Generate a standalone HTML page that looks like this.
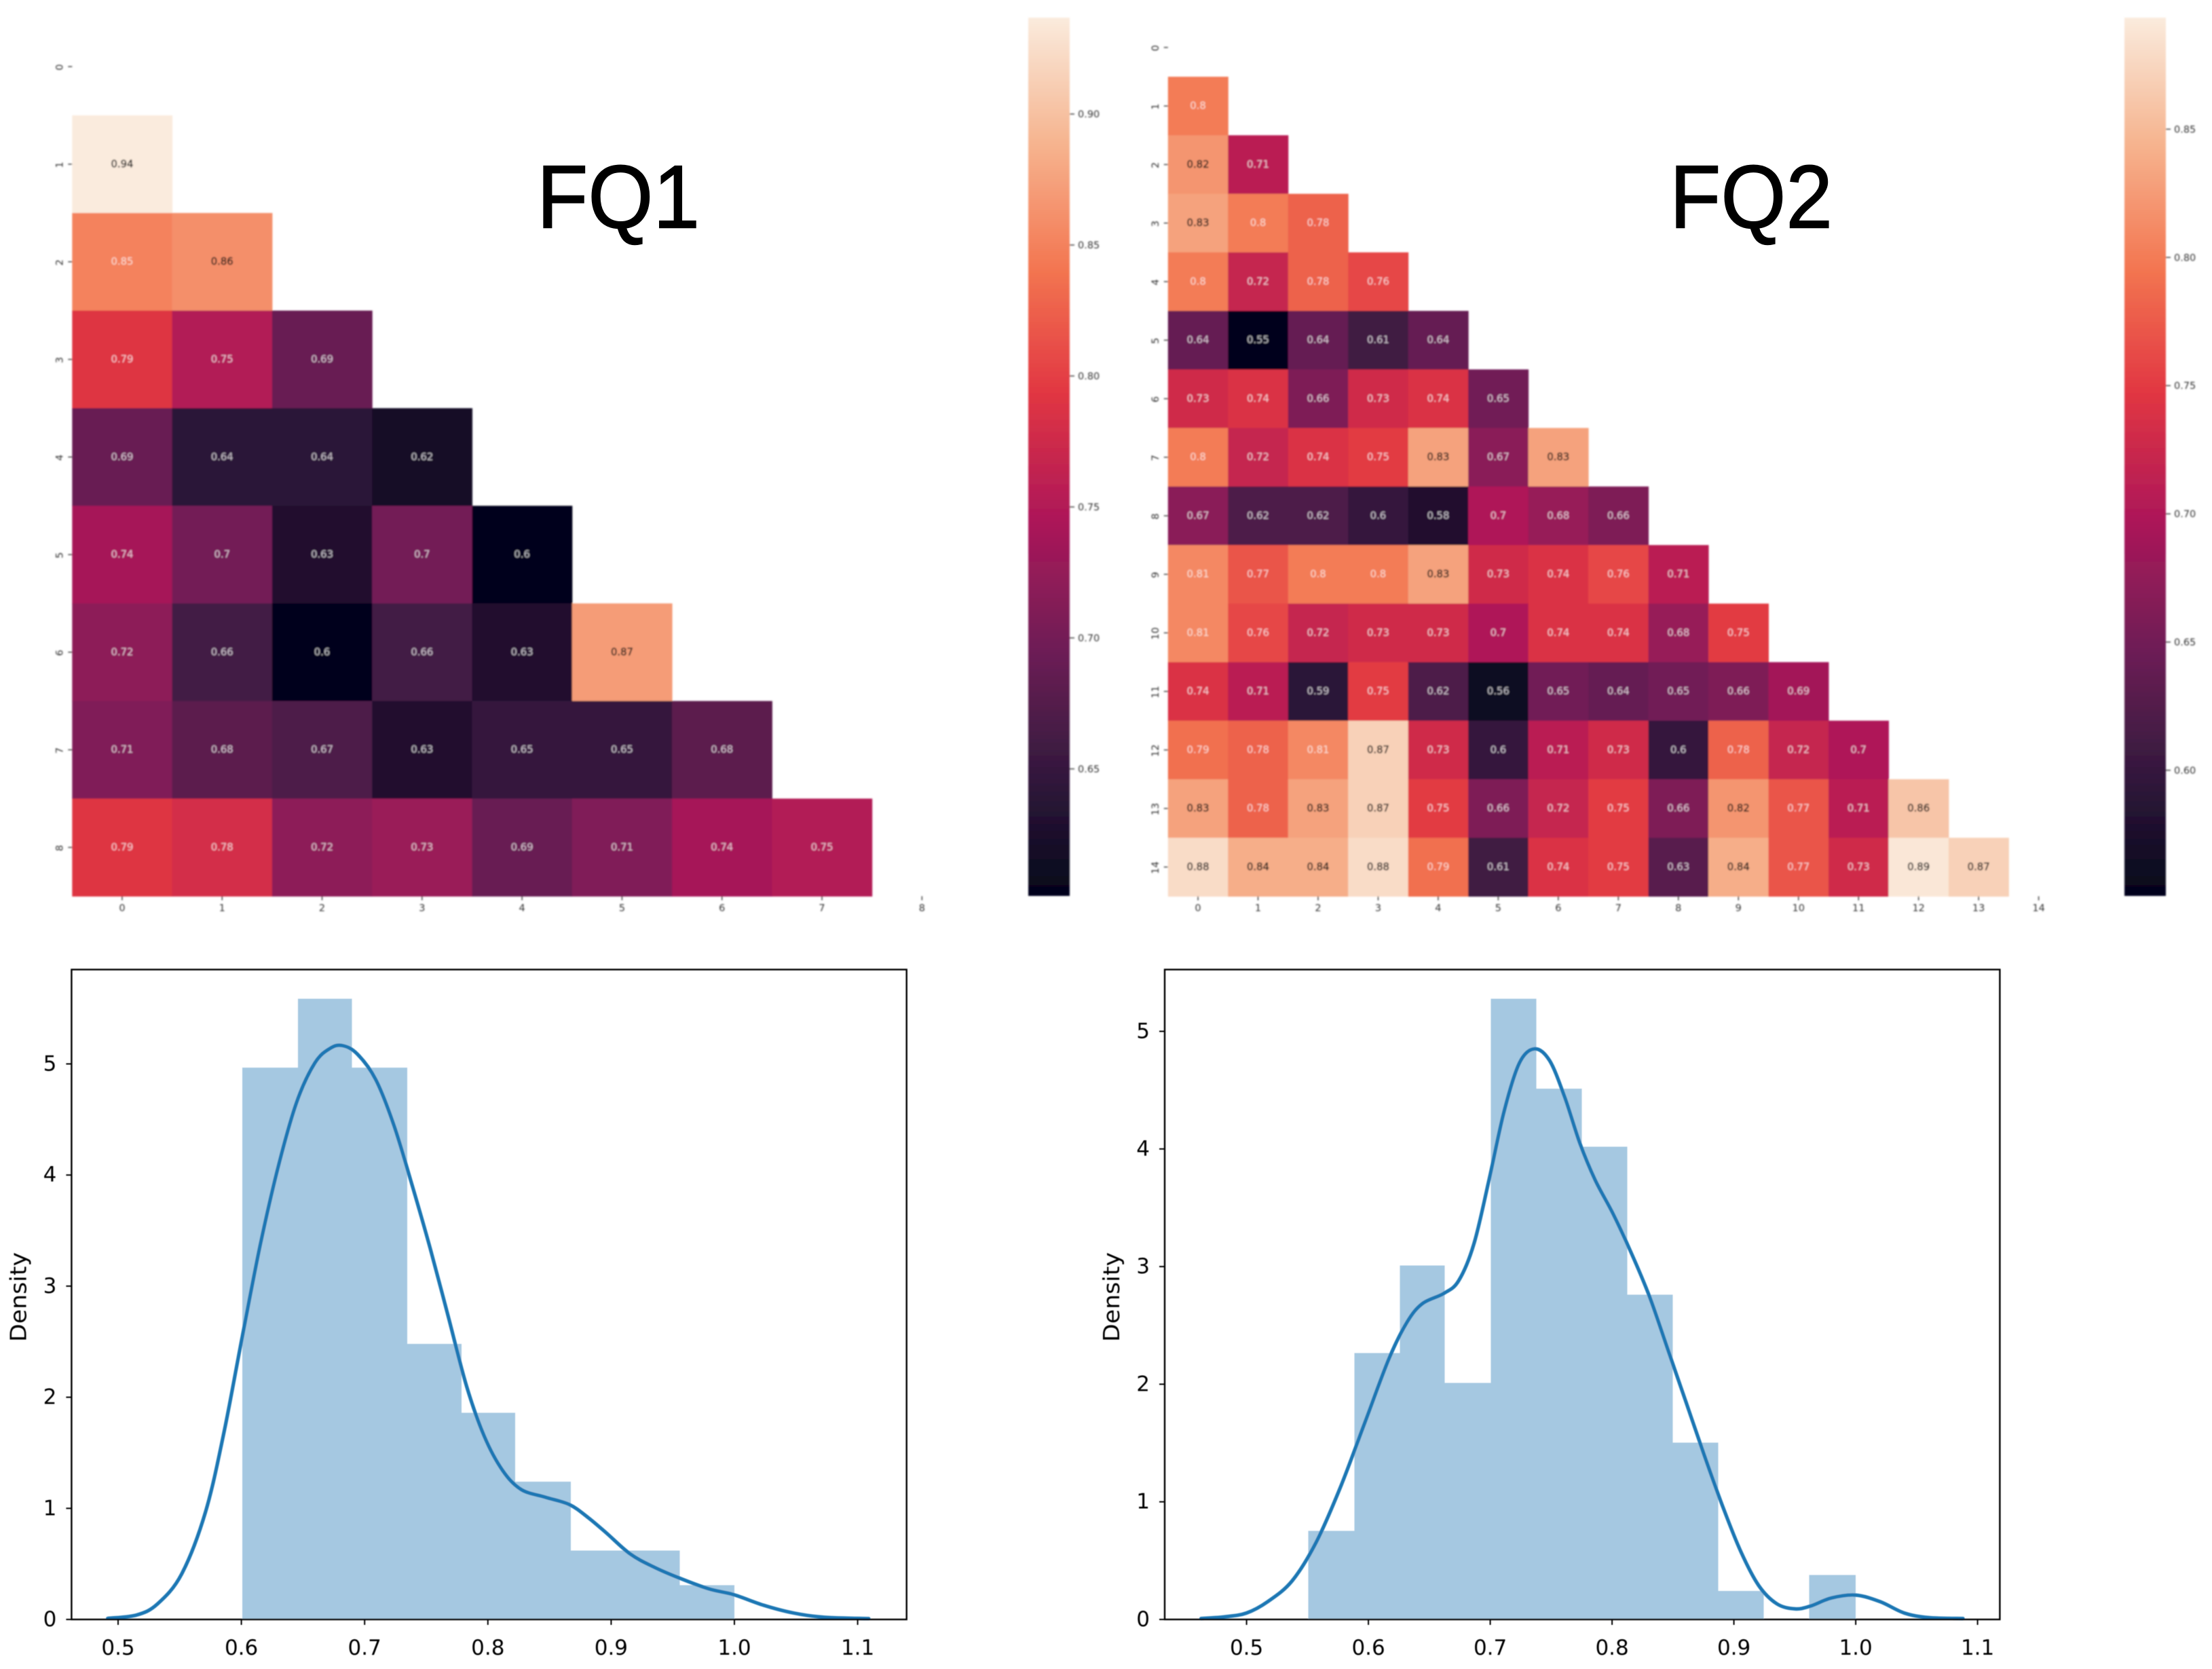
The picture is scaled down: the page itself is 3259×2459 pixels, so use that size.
<!DOCTYPE html>
<html lang="en">
<head>
<meta charset="utf-8">
<title>FQ1 and FQ2 correlation heatmaps and density histograms</title>
<style>
html,body{margin:0;padding:0;background:#fff;}
svg{display:block;}
text{font-family:"DejaVu Sans","Liberation Sans",sans-serif;}
</style>
</head>
<body>
<svg id="figure" xmlns="http://www.w3.org/2000/svg" width="3259" height="2459" viewBox="0 0 3259 2459">
  <defs>
    <filter id="soft" x="-5%" y="-5%" width="110%" height="110%"><feGaussianBlur stdDeviation="1.1"/></filter>
    <filter id="softer" x="-5%" y="-5%" width="110%" height="110%"><feGaussianBlur stdDeviation="0.6"/></filter>
  </defs>
  <rect width="3259" height="2459" fill="#ffffff"/>
  <g id="fq1-heatmap" filter="url(#soft)"></g>
  <g id="fq2-heatmap" filter="url(#soft)"></g>
  <g id="fq1-hist" filter="url(#softer)"></g>
  <g id="fq2-hist" filter="url(#softer)"></g>
  <text x="791" y="335.5" font-size="132" textLength="240" lengthAdjust="spacingAndGlyphs" fill="#000" stroke="#000" stroke-width="1.6" style="font-family:'Liberation Sans',sans-serif">FQ1</text>
  <text x="2460" y="335.5" font-size="132" textLength="240" lengthAdjust="spacingAndGlyphs" fill="#000" stroke="#000" stroke-width="1.6" style="font-family:'Liberation Sans',sans-serif">FQ2</text>
</svg>
<script>
// ---------- Heatmap data ----------
const fq1Rows = [
  [],
  [0.94],
  [0.85,0.86],
  [0.79,0.75,0.69],
  [0.69,0.64,0.64,0.62],
  [0.74,0.7,0.63,0.7,0.6],
  [0.72,0.66,0.6,0.66,0.63,0.87],
  [0.71,0.68,0.67,0.63,0.65,0.65,0.68],
  [0.79,0.78,0.72,0.73,0.69,0.71,0.74,0.75]
];
const fq2Rows = [
  [],
  [0.8],
  [0.82,0.71],
  [0.83,0.8,0.78],
  [0.8,0.72,0.78,0.76],
  [0.64,0.55,0.64,0.61,0.64],
  [0.73,0.74,0.66,0.73,0.74,0.65],
  [0.8,0.72,0.74,0.75,0.83,0.67,0.83],
  [0.67,0.62,0.62,0.6,0.58,0.7,0.68,0.66],
  [0.81,0.77,0.8,0.8,0.83,0.73,0.74,0.76,0.71],
  [0.81,0.76,0.72,0.73,0.73,0.7,0.74,0.74,0.68,0.75],
  [0.74,0.71,0.59,0.75,0.62,0.56,0.65,0.64,0.65,0.66,0.69],
  [0.79,0.78,0.81,0.87,0.73,0.6,0.71,0.73,0.6,0.78,0.72,0.7],
  [0.83,0.78,0.83,0.87,0.75,0.66,0.72,0.75,0.66,0.82,0.77,0.71,0.86],
  [0.88,0.84,0.84,0.88,0.79,0.61,0.74,0.75,0.63,0.84,0.77,0.73,0.89,0.87]
];
const fq1ColorbarTicks = [0.65,0.70,0.75,0.80,0.85,0.90];
const fq2ColorbarTicks = [0.60,0.65,0.70,0.75,0.80,0.85];
const fq1ColorRange = [0.6015,0.9368];
const fq2ColorRange = [0.551,0.8935];

// ---------- Histogram + KDE data ----------
const fq1BinEdges = [0.6009,0.6459,0.6898,0.7347,0.7786,0.8221,0.8673,0.9113,0.9558,1.0];
const fq1BinHeights = [4.967,5.586,4.967,2.48,1.86,1.24,0.62,0.62,0.31];
const fq1KdeX = [0.4916,0.515,0.532,0.5516,0.571,0.586,0.6008,0.6155,0.63,0.645,0.6597,0.672,0.682,0.694,0.709,0.7237,0.7385,0.7532,0.768,0.7827,0.797,0.812,0.827,0.8466,0.866,0.881,0.896,0.9154,0.935,0.9548,0.979,0.9995,1.0236,1.048,1.0727,1.109];
const fq1KdeY = [0.01,0.04,0.14,0.41,0.97,1.69,2.55,3.38,4.08,4.66,5.01,5.14,5.165,5.09,4.86,4.45,3.91,3.34,2.72,2.1,1.65,1.34,1.17,1.10,1.035,0.92,0.78,0.59,0.47,0.375,0.276,0.223,0.128,0.058,0.02,0.008];
const fq1XTicks = [0.5,0.6,0.7,0.8,0.9,1.0,1.1];
const fq1YTicks = [0,1,2,3,4,5];

const fq2BinEdges = [0.5507,0.5886,0.6259,0.6627,0.7005,0.7378,0.7751,0.8124,0.8498,0.887,0.9244,0.9617,1.0];
const fq2BinHeights = [0.752,2.264,3.01,2.01,5.277,4.513,4.018,2.76,1.504,0.242,0,0.378];
const fq2KdeX = [0.4627,0.4826,0.5,0.5174,0.5373,0.5572,0.5771,0.597,0.6169,0.6318,0.6443,0.6617,0.6741,0.6866,0.699,0.7114,0.7239,0.7363,0.7488,0.7612,0.7736,0.7861,0.801,0.8159,0.8308,0.8458,0.8607,0.8756,0.8905,0.9055,0.9204,0.9353,0.9502,0.9627,0.9801,1.0,1.0199,1.0398,1.0597,1.088];
const fq2KdeY = [0.008,0.023,0.055,0.152,0.327,0.658,1.126,1.671,2.217,2.529,2.685,2.771,2.88,3.192,3.737,4.321,4.73,4.851,4.75,4.438,4.048,3.737,3.445,3.113,2.743,2.295,1.847,1.399,0.97,0.581,0.288,0.133,0.09,0.113,0.183,0.207,0.152,0.055,0.016,0.008];
const fq2XTicks = [0.5,0.6,0.7,0.8,0.9,1.0,1.1];
const fq2YTicks = [0,1,2,3,4,5];

// ---------- Colormap (rocket) ----------
const rocketStops = ['#03051a','#35193e','#701f57','#ad1759','#e13642','#f37651','#f6b48f','#faebdd'];
function hexToRgb(h){return [parseInt(h.slice(1,3),16),parseInt(h.slice(3,5),16),parseInt(h.slice(5,7),16)];}
function rocket(t){
  t=Math.max(0,Math.min(1,t));
  const p=t*(rocketStops.length-1), i=Math.min(Math.floor(p),rocketStops.length-2), f=p-i;
  const a=hexToRgb(rocketStops[i]), b=hexToRgb(rocketStops[i+1]);
  return [0,1,2].map(k=>Math.round(a[k]+(b[k]-a[k])*f));
}
function rgbStr(c){return 'rgb('+c[0]+','+c[1]+','+c[2]+')';}
function luminance(c){
  const l=c.map(v=>{v/=255;return v<=0.03928?v/12.92:Math.pow((v+0.055)/1.055,2.4);});
  return 0.2126*l[0]+0.7152*l[1]+0.0722*l[2];
}
const NS='http://www.w3.org/2000/svg';
function mk(tag,attrs,parent,txt){
  const e=document.createElementNS(NS,tag);
  for(const k in attrs)e.setAttribute(k,attrs[k]);
  if(txt!==undefined)e.textContent=txt;
  parent.appendChild(e);
  return e;
}

// ---------- Heatmap renderer ----------
function drawHeatmap(gid,rows,range,cbTicks,geo){
  const g=document.getElementById(gid);
  const nRows=rows.length;
  const xBand=i=>geo.left+i*geo.cellW;
  const yBand=i=>geo.top+i*geo.cellH;
  const norm=v=>(v-range[0])/(range[1]-range[0]);
  const bottom=yBand(nRows);
  rows.forEach((row,r)=>{
    row.forEach((v,c)=>{
      const col=rocket(norm(v));
      const cell=mk('rect',{x:xBand(c),y:yBand(r),width:geo.cellW+0.5,height:geo.cellH+0.5,fill:rgbStr(col)},g);
      
      
    });
  });
  rows.forEach((row,r)=>{
    row.forEach((v,c)=>{
      const col=rocket(norm(v));
      const isDark=luminance(col)>0.383;
      const label=mk('text',{x:xBand(c)+geo.cellW/2,y:yBand(r)+geo.cellH/2,'text-anchor':'middle','dominant-baseline':'central','font-size':14.8,fill:isDark?'#1a1a1a':'#ffffff','fill-opacity':isDark?1:0.72,stroke:isDark?'#1a1a1a':'none','stroke-width':isDark?0.5:0},g,String(v));
      
      
    });
  });
  for(let r=0;r<nRows;r++){
    const y=yBand(r)+geo.cellH/2;
    const t=mk('line',{x1:geo.left-6,x2:geo.left,y1:y,y2:y,stroke:'#444','stroke-width':1.5},g);
    
    
    const lx=geo.left-18;
    const l=mk('text',{x:lx,y:y+1,'text-anchor':'middle','dominant-baseline':'central','font-size':14.5,fill:'#333',transform:'rotate(-90 '+lx+' '+(y+1)+')'},g,String(r));
    
    
  }
  for(let c=0;c<nRows;c++){
    const x=xBand(c)+geo.cellW/2;
    const t=mk('line',{x1:x,x2:x,y1:bottom,y2:bottom+6,stroke:'#444','stroke-width':1.5},g);
    
    
    const l=mk('text',{x:x,y:bottom+18,'text-anchor':'middle','dominant-baseline':'central','font-size':14.5,fill:'#333'},g,String(c));
    
    
  }
  // colorbar
  const defs=document.querySelector('defs');
  const gradId=gid+'-grad';
  const grad=mk('linearGradient',{id:gradId,x1:0,y1:1,x2:0,y2:0},defs);
  rocketStops.forEach((s,i)=>{mk('stop',{offset:i/(rocketStops.length-1),'stop-color':s},grad);});
  const cbY=v=>geo.cbBottom-(v-range[0])/(range[1]-range[0])*(geo.cbBottom-geo.cbTop);
  const bar=mk('rect',{x:geo.cbLeft,y:geo.cbTop,width:geo.cbW,height:geo.cbBottom-geo.cbTop,fill:'url(#'+gradId+')'},g);
  
  
  cbTicks.forEach(v=>{
    const y=cbY(v);
    const t=mk('line',{x1:geo.cbLeft+geo.cbW,x2:geo.cbLeft+geo.cbW+7,y1:y,y2:y,stroke:'#444','stroke-width':1.5},g);
    
    
    const l=mk('text',{x:geo.cbLeft+geo.cbW+12,y:y+1,'dominant-baseline':'central','font-size':14.5,fill:'#333'},g,v.toFixed(2));
    
    
  });
}

// ---------- Histogram renderer ----------
function smoothPath(px,py){
  let d='M'+px[0].toFixed(1)+' '+py[0].toFixed(1);
  for(let i=0;i<px.length-1;i++){
    const i0=Math.max(0,i-1), i3=Math.min(px.length-1,i+2);
    const c1x=px[i]+(px[i+1]-px[i0])/6, c1y=py[i]+(py[i+1]-py[i0])/6;
    const c2x=px[i+1]-(px[i3]-px[i])/6, c2y=py[i+1]-(py[i3]-py[i])/6;
    d+=' C'+c1x.toFixed(1)+' '+c1y.toFixed(1)+' '+c2x.toFixed(1)+' '+c2y.toFixed(1)+' '+px[i+1].toFixed(1)+' '+py[i+1].toFixed(1);
  }
  return d;
}
function drawHist(gid,edges,heights,kx,ky,xTicks,yTicks,geo){
  const g=document.getElementById(gid);
  const X=v=>geo.x0+(v-0.5)*geo.xScale;
  const Y=v=>geo.bottom-v*geo.yScale;
  heights.forEach((h,i)=>{
    if(h<=0)return;
    const bar=mk('rect',{x:X(edges[i]),y:Y(h),width:X(edges[i+1])-X(edges[i]),height:Y(0)-Y(h),fill:'#a5c8e1','shape-rendering':'crispEdges'},g);
    
    
  });
  const curve=mk('path',{d:smoothPath(kx.map(X),ky.map(Y)),fill:'none',stroke:'#1f77b4','stroke-width':5.2,'stroke-linejoin':'round','stroke-linecap':'round'},g);
  
  
  const frame=mk('rect',{x:geo.left,y:geo.top,width:geo.right-geo.left,height:geo.bottom-geo.top,fill:'none',stroke:'#000','stroke-width':2.4},g);
  
  
  xTicks.forEach(v=>{
    const x=X(v);
    const t=mk('line',{x1:x,x2:x,y1:geo.bottom,y2:geo.bottom+8,stroke:'#000','stroke-width':2},g);
    
    
    const l=mk('text',{x:x,y:geo.bottom+42,'text-anchor':'middle','dominant-baseline':'central','font-size':31,fill:'#000'},g,v.toFixed(1));
    
    
  });
  yTicks.forEach(v=>{
    const y=Y(v);
    const t=mk('line',{x1:geo.left-8,x2:geo.left,y1:y,y2:y,stroke:'#000','stroke-width':2},g);
    
    
    const l=mk('text',{x:geo.left-22,y:y,'text-anchor':'end','dominant-baseline':'central','font-size':31,fill:'#000'},g,String(v));
    
    
  });
  const midY=1911;
  const title=mk('text',{x:geo.titleX,y:midY,'text-anchor':'middle','dominant-baseline':'central','font-size':33,textLength:132,lengthAdjust:'spacingAndGlyphs',fill:'#000',transform:'rotate(-90 '+geo.titleX+' '+midY+')'},g,'Density');
  
  
}

drawHeatmap('fq1-heatmap',fq1Rows,fq1ColorRange,fq1ColorbarTicks,{left:106.3,top:26.2,cellW:147.3,cellH:143.8,cbLeft:1515,cbW:61,cbTop:26,cbBottom:1320});
drawHeatmap('fq2-heatmap',fq2Rows,fq2ColorRange,fq2ColorbarTicks,{left:1720.8,top:26.8,cellW:88.47,cellH:86.25,cbLeft:3130,cbW:61,cbTop:26,cbBottom:1320});
drawHist('fq1-hist',fq1BinEdges,fq1BinHeights,fq1KdeX,fq1KdeY,fq1XTicks,fq1YTicks,{left:105.4,right:1335.7,top:1428.5,bottom:2386,x0:174,xScale:1816,yScale:163.7,titleX:27});
drawHist('fq2-hist',fq2BinEdges,fq2BinHeights,fq2KdeX,fq2KdeY,fq2XTicks,fq2YTicks,{left:1716,right:2946.4,top:1428.5,bottom:2386,x0:1836.6,xScale:1795,yScale:173.3,titleX:1637.5});
</script>
</body>
</html>
